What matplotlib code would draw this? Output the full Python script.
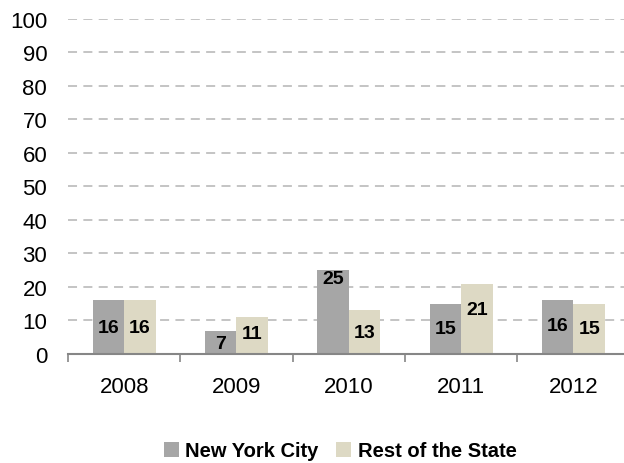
import numpy as np
import matplotlib
matplotlib.use('Agg')
import matplotlib.pyplot as plt

years = ['2008', '2009', '2010', '2011', '2012']
nyc = [16, 7, 25, 15, 16]
rest = [16, 11, 13, 21, 15]
# label heights inside bars (a few were nudged up)
nyc_label_y = [8, 3.0, 22.4, 7.5, 8.5]
rest_label_y = [8, 6, 6.5, 13.4, 7.5]

plt.rcParams['font.family'] = ['Liberation Sans', 'DejaVu Sans']

fig = plt.figure(figsize=(6.24, 4.64), dpi=100)
ax = fig.add_axes([0.109, 0.235, 0.9, 0.722])

x = np.arange(len(years))
w = 0.28
ax.bar(x - w / 2, nyc, w, color='#A6A6A6', label='New York City', zorder=2)
ax.bar(x + w / 2, rest, w, color='#DDD9C4', label='Rest of the State', zorder=2)

for i in range(len(years)):
    ax.text(x[i] - w / 2, nyc_label_y[i], str(nyc[i]), ha='center', va='center',
            fontsize=14, fontweight='bold', zorder=3)
    ax.text(x[i] + w / 2, rest_label_y[i], str(rest[i]), ha='center', va='center',
            fontsize=14, fontweight='bold', zorder=3)

ax.set_xlim(-0.5, len(years) - 0.5)
ax.set_ylim(0, 100)
ax.set_yticks(range(0, 101, 10))
ax.yaxis.grid(True, linestyle=(0, (5, 3.5)), color='#BFBFBF', linewidth=1.3, zorder=0)
ax.tick_params(axis='y', length=0, labelsize=16, pad=15)

ax.set_xticks(x)
ax.set_xticklabels(years)
ax.set_xticks(np.arange(-0.5, len(years), 1), minor=True)
ax.tick_params(axis='x', which='major', length=0, labelsize=16, pad=16)
ax.tick_params(axis='x', which='minor', length=6, direction='out', color='#868686', width=1.2)

for s in ['top', 'right', 'left']:
    ax.spines[s].set_visible(False)
ax.spines['bottom'].set_color('#868686')
ax.spines['bottom'].set_linewidth(1.5)

fig.legend(loc='center', bbox_to_anchor=(0.545, 0.026), ncol=2, frameon=False,
           prop={'weight': 'bold', 'size': 14.5}, handlelength=0.75, handleheight=0.75,
           handletextpad=0.3, columnspacing=0.9)

fig.savefig('out.png', dpi=100)
